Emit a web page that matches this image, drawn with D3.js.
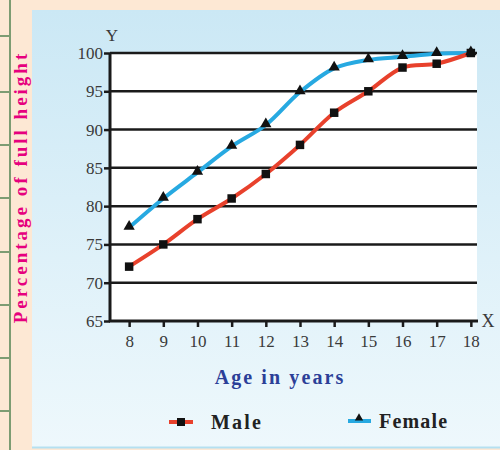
<!DOCTYPE html>
<html>
<head>
<meta charset="utf-8">
<script src="https://cdn.jsdelivr.net/npm/d3@7"></script>
<style>
  body { margin: 0; padding: 0; }
  svg { display: block; }
  text { font-family: "Liberation Serif", "Times New Roman", serif; }
</style>
</head>
<body>
<div id="chart"></div>
<script>
var svgWidth = 500;
var svgHeight = 450;

// data
var ages = [8, 9, 10, 11, 12, 13, 14, 15, 16, 17, 18];
var maleValues = [72.1, 75, 78.3, 81, 84.2, 88, 92.2, 95, 98.1, 98.6, 100];
var femaleValues = [77.2, 81, 84.4, 87.8, 90.6, 94.9, 98, 99.1, 99.5, 99.9, 100];
var yTicks = [65, 70, 75, 80, 85, 90, 95, 100];

var margin = { top: 53, left: 110, right: 23, bottom: 129 };
var width = svgWidth - margin.left - margin.right;
var height = svgHeight - margin.top - margin.bottom;

var svg = d3.select("#chart")
  .append("svg")
  .attr("width", svgWidth)
  .attr("height", svgHeight);

// background gradient for the blue panel
var defs = svg.append("defs");
var grad = defs.append("linearGradient")
  .attr("id", "panelGrad")
  .attr("x1", 0).attr("y1", 0).attr("x2", 0).attr("y2", 1);
grad.append("stop").attr("offset", "0%").attr("stop-color", "#cbe8f5");
grad.append("stop").attr("offset", "100%").attr("stop-color", "#eef8fc");

svg.append("rect")
  .attr("width", svgWidth)
  .attr("height", svgHeight)
  .attr("fill", "#fde8d4");

svg.append("rect")
  .attr("x", 32)
  .attr("y", 10)
  .attr("width", svgWidth - 32)
  .attr("height", 437)
  .attr("fill", "url(#panelGrad)");

svg.append("line")
  .attr("x1", 32).attr("x2", svgWidth)
  .attr("y1", 447.5).attr("y2", 447.5)
  .attr("stroke", "#b5e0f0")
  .attr("stroke-width", 2);

// left margin strip (ruled page edge)
svg.append("line")
  .attr("x1", 10).attr("x2", 10)
  .attr("y1", 0).attr("y2", svgHeight)
  .attr("stroke", "#7d9c72")
  .attr("stroke-width", 2);

[36, 92, 145, 198, 252, 305, 358, 411].forEach(function(y) {
  svg.append("line")
    .attr("x1", 0).attr("x2", 10)
    .attr("y1", y).attr("y2", y)
    .attr("stroke", "#7d9c72")
    .attr("stroke-width", 2);
});

var chartGroup = svg.append("g")
  .attr("transform", `translate(${margin.left}, ${margin.top})`);

var xScale = d3.scaleLinear()
  .domain([7.44, 18.18])
  .range([0, width]);

var yScale = d3.scaleLinear()
  .domain([65, 100])
  .range([height, 0]);

// white plot area
chartGroup.append("rect")
  .attr("width", width)
  .attr("height", height)
  .attr("fill", "#ffffff");

// horizontal grid lines
chartGroup.selectAll(".grid")
  .data(yTicks.slice(1))
  .enter()
  .append("line")
  .attr("x1", 0)
  .attr("x2", width)
  .attr("y1", d => yScale(d))
  .attr("y2", d => yScale(d))
  .attr("stroke", "#1a1a1a")
  .attr("stroke-width", 2.5);

// axes
var leftAxis = d3.axisLeft(yScale)
  .tickValues(yTicks)
  .tickSize(6)
  .tickPadding(1);

var bottomAxis = d3.axisBottom(xScale)
  .tickValues(ages)
  .tickSize(6)
  .tickPadding(8);

var yAxis = chartGroup.append("g").call(leftAxis);
var xAxis = chartGroup.append("g")
  .attr("transform", `translate(0, ${height})`)
  .call(bottomAxis);

[xAxis, yAxis].forEach(function(ax) {
  ax.select(".domain").remove();
  ax.selectAll("line").attr("stroke", "#1a1a1a").attr("stroke-width", 2.5);
  ax.selectAll("text")
    .attr("fill", "#3a3a3a")
    .style("font-size", "17px");
});
xAxis.selectAll(".tick line").attr("y1", 0);

chartGroup.append("line")
  .attr("x1", 0).attr("x2", 0)
  .attr("y1", 0).attr("y2", height)
  .attr("stroke", "#1a1a1a")
  .attr("stroke-width", 3);

chartGroup.append("line")
  .attr("x1", -1).attr("x2", width + 1)
  .attr("y1", height).attr("y2", height)
  .attr("stroke", "#1a1a1a")
  .attr("stroke-width", 3);

chartGroup.append("text")
  .attr("x", 2)
  .attr("y", -12)
  .attr("text-anchor", "middle")
  .attr("fill", "#3a3a3a")
  .style("font-size", "17px")
  .text("Y");

chartGroup.append("text")
  .attr("x", width + 11)
  .attr("y", height + 6)
  .attr("text-anchor", "middle")
  .attr("fill", "#3a3a3a")
  .style("font-size", "18px")
  .text("X");

// series lines
var seriesLine = d3.line()
  .x((d, i) => xScale(ages[i]))
  .y(d => yScale(d))
  .curve(d3.curveCatmullRom.alpha(0.5));

chartGroup.append("path")
  .datum(femaleValues)
  .attr("d", seriesLine)
  .attr("fill", "none")
  .attr("stroke", "#27a9e1")
  .attr("stroke-width", 4);

chartGroup.append("path")
  .datum(maleValues)
  .attr("d", seriesLine)
  .attr("fill", "none")
  .attr("stroke", "#e8412c")
  .attr("stroke-width", 4);

var triangle = d3.symbol().type(d3.symbolTriangle).size(55);
var square = d3.symbol().type(d3.symbolSquare).size(72);

chartGroup.selectAll(".fem")
  .data(femaleValues)
  .enter()
  .append("path")
  .attr("d", triangle)
  .attr("transform", (d, i) => `translate(${xScale(ages[i])}, ${yScale(d) - 1})`)
  .attr("fill", "#111");

chartGroup.selectAll(".male")
  .data(maleValues)
  .enter()
  .append("path")
  .attr("d", square)
  .attr("transform", (d, i) => `translate(${xScale(ages[i])}, ${yScale(d)})`)
  .attr("fill", "#111");

// axis titles
svg.append("text")
  .attr("x", 280)
  .attr("y", 384)
  .attr("text-anchor", "middle")
  .attr("fill", "#2b3f98")
  .style("font-size", "20px")
  .style("font-weight", "bold")
  .style("letter-spacing", "2.1px")
  .text("Age in years");

svg.append("text")
  .attr("transform", "translate(27, 187) rotate(-90)")
  .attr("text-anchor", "middle")
  .attr("fill", "#e6007e")
  .style("font-size", "19px")
  .style("font-weight", "bold")
  .style("letter-spacing", "3px")
  .text("Percentage of full height");

// legend
var legend = svg.append("g");

legend.append("line")
  .attr("x1", 169).attr("x2", 193)
  .attr("y1", 422).attr("y2", 422)
  .attr("stroke", "#e8412c")
  .attr("stroke-width", 4);
legend.append("path")
  .attr("d", d3.symbol().type(d3.symbolSquare).size(64))
  .attr("transform", "translate(181, 422)")
  .attr("fill", "#111");
legend.append("text")
  .attr("x", 211)
  .attr("y", 429)
  .attr("fill", "#222")
  .style("font-size", "20px")
  .style("font-weight", "bold")
  .style("letter-spacing", "2.2px")
  .text("Male");

legend.append("line")
  .attr("x1", 348).attr("x2", 371)
  .attr("y1", 421).attr("y2", 421)
  .attr("stroke", "#27a9e1")
  .attr("stroke-width", 4);
legend.append("path")
  .attr("d", d3.symbol().type(d3.symbolTriangle).size(30))
  .attr("transform", "translate(359, 418)")
  .attr("fill", "#111");
legend.append("text")
  .attr("x", 379)
  .attr("y", 428)
  .attr("fill", "#222")
  .style("font-size", "20px")
  .style("font-weight", "bold")
  .style("letter-spacing", "1.2px")
  .text("Female");
</script>
</body>
</html>
